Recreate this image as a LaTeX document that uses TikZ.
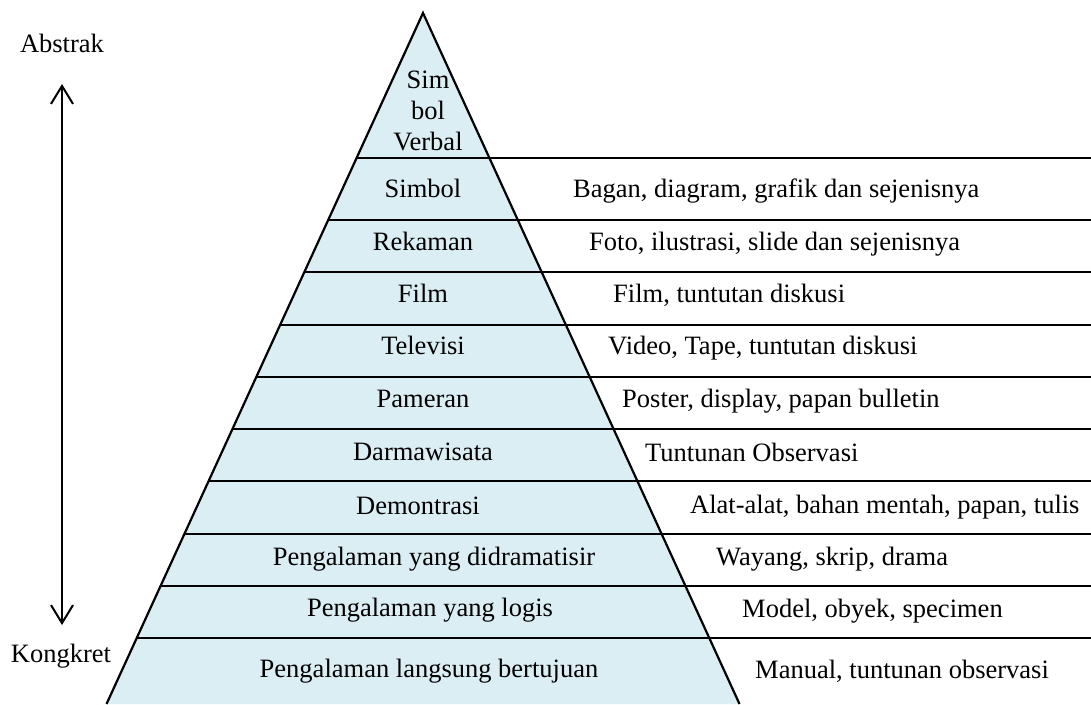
\documentclass[tikz,border=0pt]{standalone}
\usepackage{fontspec}
\setmainfont{Liberation Serif}
\usetikzlibrary{arrows.meta}
\definecolor{pyrfill}{RGB}{219,238,244}
\tikzset{
  lbl/.style={font=\fontsize{26.5}{31}\selectfont, inner sep=0pt, text height=0.68em, text depth=0.2em},
  rlbl/.style={lbl, anchor=west},
  band/.style={line width=2pt},
  edge/.style={line width=2.2pt, line join=miter},
  dir/.style={line width=2pt, {Straight Barb[length=18pt,width=22pt,line width=2pt]}-{Straight Barb[length=18pt,width=22pt,line width=2pt]}}
}
\begin{document}
\begin{tikzpicture}[x=1pt,y=-1pt]
\useasboundingbox (0,0) rectangle (1091,704);
\coordinate (apex) at (423,13);
\coordinate (bl) at (106.5,704);
\coordinate (br) at (739.5,704);
\fill[pyrfill] (apex) -- (bl) -- (br) -- cycle;
\foreach \y in {158,220,272.25,324.5,376.75,429,481.25,533.5,585.75,638}{
  \draw[band] ({423-0.45803*(\y-13)},\y) -- (1091,\y);
}
\draw[edge] (bl) -- (apex) -- (br);
% left labels
\node[lbl, align=center, text height=, text depth=] (sv) at (428,111) {Sim\\bol\\Verbal};
\node[lbl] (l1) at (423,195) {Simbol};
\node[lbl] (l2) at (423,248) {Rekaman};
\node[lbl] (l3) at (423,300) {Film};
\node[lbl] (l4) at (423,352) {Televisi};
\node[lbl] (l5) at (423,405) {Pameran};
\node[lbl] (l6) at (423,458) {Darmawisata};
\node[lbl] (l7) at (418,512) {Demontrasi};
\node[lbl] (l8) at (434,563) {Pengalaman yang didramatisir};
\node[lbl] (l9) at (430,614) {Pengalaman yang logis};
\node[lbl] (l10) at (429,675) {Pengalaman langsung bertujuan};
% right labels
\node[rlbl] (r1) at (573,195) {Bagan, diagram, grafik dan sejenisnya};
\node[rlbl] (r2) at (589,248) {Foto, ilustrasi, slide dan sejenisnya};
\node[rlbl] (r3) at (613,300) {Film, tuntutan diskusi};
\node[rlbl] (r4) at (608,352) {Video, Tape, tuntutan diskusi};
\node[rlbl] (r5) at (622,405) {Poster, display, papan bulletin};
\node[rlbl] (r6) at (645,459) {Tuntunan Observasi};
\node[rlbl] (r7) at (690,511) {Alat-alat, bahan mentah, papan, tulis};
\node[rlbl] (r8) at (716,563) {Wayang, skrip, drama};
\node[rlbl] (r9) at (742,615) {Model, obyek, specimen};
\node[rlbl] (r10) at (755,676) {Manual, tuntunan observasi};
% side
\node[lbl] (abs) at (62,50) {Abstrak};
\node[lbl] (kon) at (61,660) {Kongkret};
\coordinate (atop) at (62,84);
\coordinate (abot) at (62,625);
\draw[dir] (abot) -- (atop);
\end{tikzpicture}
\end{document}
